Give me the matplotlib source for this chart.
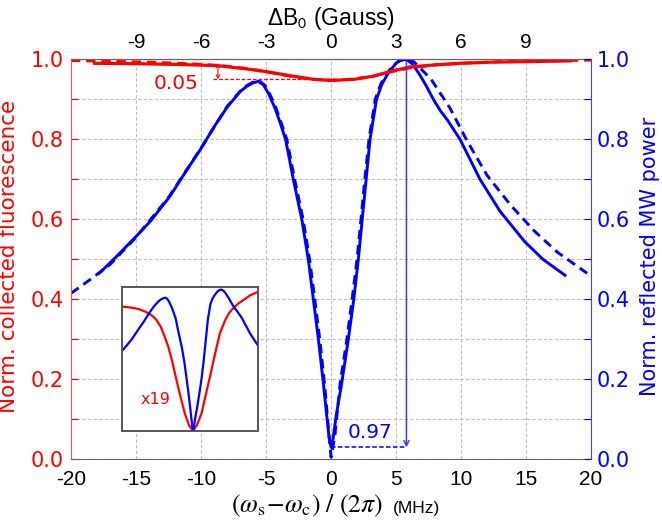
import matplotlib
matplotlib.use('Agg')
import matplotlib.pyplot as plt
from matplotlib.ticker import MultipleLocator

plt.rcParams['mathtext.fontset'] = 'stix'

# detuning (MHz) and normalized signals
blue_x = [-17.8, -16.5, -15.0, -13.9, -12.4, -11.1, -10.0, -9.0, -8.0, -7.0, -6.5, -6.0, -5.6, -5.2,
          -4.8, -4.3, -3.9, -3.5, -2.9, -2.25, -1.75, -1.36, -0.97, -0.59, -0.35, -0.15, 0.0, 0.15,
          0.4, 0.82, 1.33, 1.75, 2.1, 2.4, 2.7, 3.0, 3.5, 3.9, 4.3, 4.7, 5.0, 5.3, 5.6, 5.9, 6.2,
          6.5, 6.85, 7.3, 7.87, 8.4, 9.0, 9.92, 11.46, 13.0, 14.9, 16.3, 18.0]
blue_y = [0.466, 0.507, 0.557, 0.595, 0.657, 0.723, 0.777, 0.831, 0.880, 0.919, 0.932, 0.941, 0.945, 0.936,
          0.914, 0.877, 0.840, 0.800, 0.700, 0.600, 0.500, 0.400, 0.300, 0.190, 0.115, 0.055, 0.030, 0.050,
          0.110, 0.190, 0.300, 0.400, 0.500, 0.600, 0.700, 0.800, 0.900, 0.937, 0.960, 0.978, 0.990, 0.997,
          1.000, 0.997, 0.990, 0.977, 0.960, 0.935, 0.900, 0.872, 0.846, 0.800, 0.700, 0.620, 0.544, 0.500,
          0.460]

blue_fit_x = [-20.0, -18.5, -17.0, -15.0, -12.5, -10.0, -8.0, -7.0, -6.5, -6.0, -5.5, -5.1, -4.7, -4.3,
              -3.4, -2.8, -2.15, -1.65, -1.25, -0.87, -0.5, -0.1, 0.0, 0.3, 0.7, 1.22, 1.62, 2.0, 2.3,
              2.6, 2.92, 3.4, 3.85, 4.3, 4.8, 5.2, 5.6, 6.0, 6.4, 6.8, 7.7, 9.15, 10.4, 12.0, 13.8,
              15.6, 17.4, 19.7]
blue_fit_y = [0.415, 0.450, 0.487, 0.555, 0.655, 0.778, 0.882, 0.920, 0.934, 0.943, 0.946, 0.935, 0.912, 0.885,
              0.800, 0.700, 0.600, 0.500, 0.400, 0.300, 0.190, 0.040, 0.005, 0.060, 0.190, 0.300, 0.400, 0.500,
              0.600, 0.700, 0.800, 0.900, 0.940, 0.965, 0.985, 0.995, 0.999, 1.000, 0.993, 0.980, 0.950, 0.878,
              0.800, 0.710, 0.636, 0.572, 0.518, 0.465]

red_x = [-18.2, -15.0, -11.6, -8.7, -6.5, -4.95, -3.15, -1.36, 0.0, 1.8, 3.3, 4.8, 5.3, 6.1,
         8.0, 9.9, 12.5, 14.9, 18.4]
red_y = [0.990, 0.989, 0.987, 0.984, 0.976, 0.969, 0.959, 0.950, 0.947, 0.950, 0.958, 0.972, 0.975, 0.981,
         0.986, 0.990, 0.993, 0.994, 0.996]

red_fit_x = [-20.0, -17.0, -14.0, -11.0, -8.7, -6.5, -5.0, -3.0, -1.5, 0.0, 1.5, 3.0, 4.5, 6.0,
             8.0, 10.0, 13.0, 16.0, 20.0]
red_fit_y = [0.997, 0.995, 0.993, 0.989, 0.985, 0.977, 0.969, 0.957, 0.950, 0.948, 0.950, 0.956, 0.968, 0.978,
             0.986, 0.990, 0.994, 0.996, 0.998]

# inset: fluorescence dip magnified x19
inset_red_x = [-14.4, -12.5, -11.0, -9.5, -8.3, -7.4, -6.5, -5.7, -5.0, -4.2, -3.35, -2.5, -1.67, -0.8,
               0.0, 0.8, 1.7, 2.5, 3.4, 4.4, 5.4, 6.5, 7.3, 8.1, 9.0, 10.1, 11.5, 13.1]
inset_red_y = [0.862, 0.855, 0.845, 0.825, 0.800, 0.770, 0.720, 0.650, 0.583, 0.480, 0.352, 0.230, 0.120, 0.035,
               0.000, 0.040, 0.120, 0.240, 0.375, 0.530, 0.676, 0.770, 0.820, 0.850, 0.880, 0.907, 0.940, 0.965]

xticks_mhz = [-20, -15, -10, -5, 0, 5, 10, 15, 20]
xticks_gauss = [-9, -6, -3, 0, 3, 6, 9]
gauss_per_mhz = 0.6

RED = '#ff0000'
BLUE = '#0000ff'

fig = plt.figure(figsize=(6.62, 5.23), dpi=100)
ax = fig.add_axes([0.1073, 0.1218, 0.7855, 0.7648])
ax.set_xlim(-20, 20)
ax.set_ylim(0, 1)

ax.plot(blue_fit_x, blue_fit_y, color=BLUE, lw=2.1, dashes=(3.2, 2.0))
ax.plot(blue_x, blue_y, color=BLUE, lw=2.1, solid_joinstyle='round')
ax.plot(red_fit_x, red_fit_y, color=RED, lw=2.1, dashes=(3.2, 2.0))
ax.plot(red_x, red_y, color=RED, lw=2.3, solid_joinstyle='round')

# annotations
ax.annotate('', xy=(-8.7, 0.95), xytext=(-8.7, 0.99),
            arrowprops=dict(arrowstyle='<->', color=RED, lw=0.8, mutation_scale=6, shrinkA=0, shrinkB=0))
ax.plot([-9.1, 0], [0.95, 0.95], color=RED, lw=0.9, dashes=(3, 1.5))
ax.text(-10.2, 0.94, '0.05', color=RED, fontsize=14.5, ha='right', va='center')

ax.annotate('', xy=(5.8, 0.03), xytext=(5.8, 0.995),
            arrowprops=dict(arrowstyle='->', color='#3a3aff', lw=1.1, mutation_scale=9, shrinkA=0, shrinkB=0))
ax.plot([0, 5.8], [0.03, 0.03], color=BLUE, lw=1.1, dashes=(3, 1.5))
ax.text(3.0, 0.067, '0.97', color=BLUE, fontsize=14.5, ha='center', va='center')

# axes styling
ax.set_xticks(xticks_mhz)
ax.set_xticklabels([str(v) for v in xticks_mhz], family='Liberation Sans', fontsize=15)
ax.tick_params(axis='x', length=0, pad=8)
ax.yaxis.set_major_locator(MultipleLocator(0.2))
ax.yaxis.set_minor_locator(MultipleLocator(0.1))
ax.yaxis.set_major_formatter(matplotlib.ticker.FormatStrFormatter('%.1f'))
ax.tick_params(axis='y', which='both', direction='in', colors=RED, labelcolor=RED,
               labelsize=15, length=5, width=0.8, pad=5)
ax.grid(True, which='major', axis='x', color='#bdbdbd', lw=0.8, dashes=(3, 2))
ax.grid(True, which='both', axis='y', color='#bdbdbd', lw=0.8, dashes=(3, 2))
ax.spines['left'].set_color('#ff5050')
ax.spines['right'].set_visible(False)
ax.spines['top'].set_color('#666666')
ax.spines['bottom'].set_color('#666666')

ax2 = ax.twinx()
ax2.set_ylim(0, 1)
ax2.yaxis.set_major_locator(MultipleLocator(0.2))
ax2.yaxis.set_minor_locator(MultipleLocator(0.1))
ax2.yaxis.set_major_formatter(matplotlib.ticker.FormatStrFormatter('%.1f'))
ax2.tick_params(axis='y', which='both', direction='in', colors=BLUE, labelcolor=BLUE,
                labelsize=15, length=5, width=0.8, pad=4)
ax2.spines['right'].set_color('#4040ff')
for s in ['left', 'top', 'bottom']:
    ax2.spines[s].set_visible(False)

secax = ax.secondary_xaxis('top', functions=(lambda f: f * gauss_per_mhz, lambda g: g / gauss_per_mhz))
secax.set_xticks(xticks_gauss)
secax.set_xticklabels([str(v) for v in xticks_gauss], family='Liberation Sans', fontsize=15)
secax.tick_params(length=0, pad=5)
secax.spines['top'].set_color('#666666')

fig.text(0.5, 0.965, r'ΔB$_{\mathsf{0}}$ (Gauss)', family='Liberation Sans', fontsize=16.5,
         ha='center', va='center')
fig.text(0.578, 0.02, r'$(\omega_{\rm s}\!-\!\omega_{\rm c})\ /\ (2\pi)$', fontsize=18.5,
         ha='right', va='baseline')
fig.text(0.593, 0.02, '(MHz)', family='Liberation Sans', fontsize=12.5, ha='left', va='baseline')
fig.text(0.014, 0.509, 'Norm. collected fluorescence', color=RED, fontsize=15.5,
         rotation=90, ha='center', va='center')
fig.text(0.982, 0.509, 'Norm. reflected MW power', color=BLUE, fontsize=15,
         rotation=90, ha='center', va='center')

# inset
ins = fig.add_axes([0.1838, 0.1765, 0.206, 0.2753])
ins.plot(inset_red_x, inset_red_y, color=RED, lw=1.6)
ins.set_xlim(-14.4, 13.1)
ins.set_ylim(0, 1)
ins.set_xticks([])
ins.set_yticks([])
ins.text(0.25, 0.22, 'x19', color=RED, fontsize=11.5, ha='center', va='center', transform=ins.transAxes)
ins_b = ins.twinx()
ins_b.plot(blue_x, blue_y, color=BLUE, lw=1.6, solid_joinstyle='round')
ins_b.set_ylim(0.03, 1.02)
ins_b.set_xlim(-14.4, 13.1)
ins_b.set_yticks([])
for a in (ins, ins_b):
    for s in a.spines.values():
        s.set_color('#555555')
        s.set_linewidth(1.2)

fig.savefig('out.png', dpi=100)
